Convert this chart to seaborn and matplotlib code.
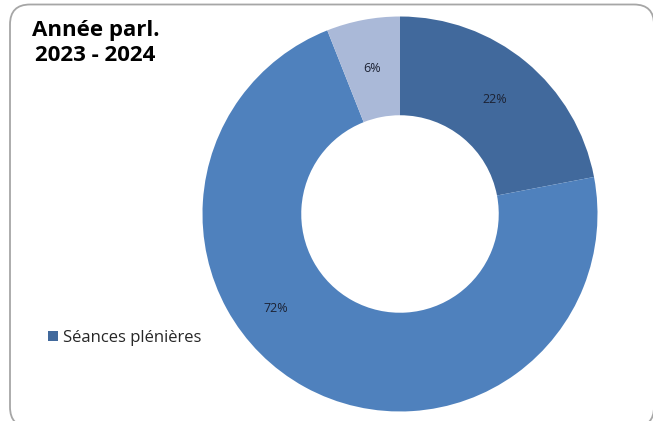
import matplotlib
matplotlib.use("Agg")
import matplotlib.pyplot as plt
import seaborn as sns
from matplotlib.patches import FancyBboxPatch
import numpy as np

# données
categories = ["Séances plénières", "Autres", "Divers"]
valeurs = [22, 72, 6]
couleurs = ["#41699c", "#4f81bd", "#aab9d8"]
titre = "Année parl.\n2023 - 2024"

sns.set_theme(style="white")
plt.rcParams['font.family'] = ['Open Sans', 'DejaVu Sans']

fig = plt.figure(figsize=(6.53, 4.21), dpi=100)

# cadre arrondi (axe de fond en pixels)
fond = fig.add_axes([0, 0, 1, 1])
fond.set_xlim(0, 653)
fond.set_ylim(0, 421)
fond.axis("off")
cadre = FancyBboxPatch((10, -6), 644, 421 - 4.5 + 6,
                       boxstyle="round,pad=0,rounding_size=20",
                       fill=False, edgecolor="#a6a6a6", linewidth=1.3, clip_on=False)
fond.add_patch(cadre)

ax = fig.add_axes([0.3101, 0.0226, 0.6049, 0.9382])
wedges, _, autotexts = ax.pie(valeurs, colors=couleurs, startangle=90, counterclock=False,
                              radius=1, autopct="%1.0f%%", pctdistance=0.75,
                              wedgeprops=dict(width=0.5, linewidth=0),
                              textprops=dict(fontsize=9, color="#1c2233"))
ax.set_xlim(-1, 1)
ax.set_ylim(-1, 1)
ax.set_aspect("auto")
ax.axis("off")

# étiquette 72% déplacée comme dans l'original
ang = np.deg2rad(232.5)
autotexts[1].set_position((0.79 * np.sin(ang), 0.79 * np.cos(ang)))

fig.text(0.146, 0.898, titre, ha="center", va="center", fontsize=16,
         fontweight="bold", color="black", linespacing=1.25)

fig.legend([wedges[0]], [categories[0]], loc="center left",
           bbox_to_anchor=(0.05, 0.197), frameon=False, fontsize=12,
           handlelength=0.6, handleheight=0.6, handletextpad=0.35)

fig.savefig("out.png", dpi=100)
